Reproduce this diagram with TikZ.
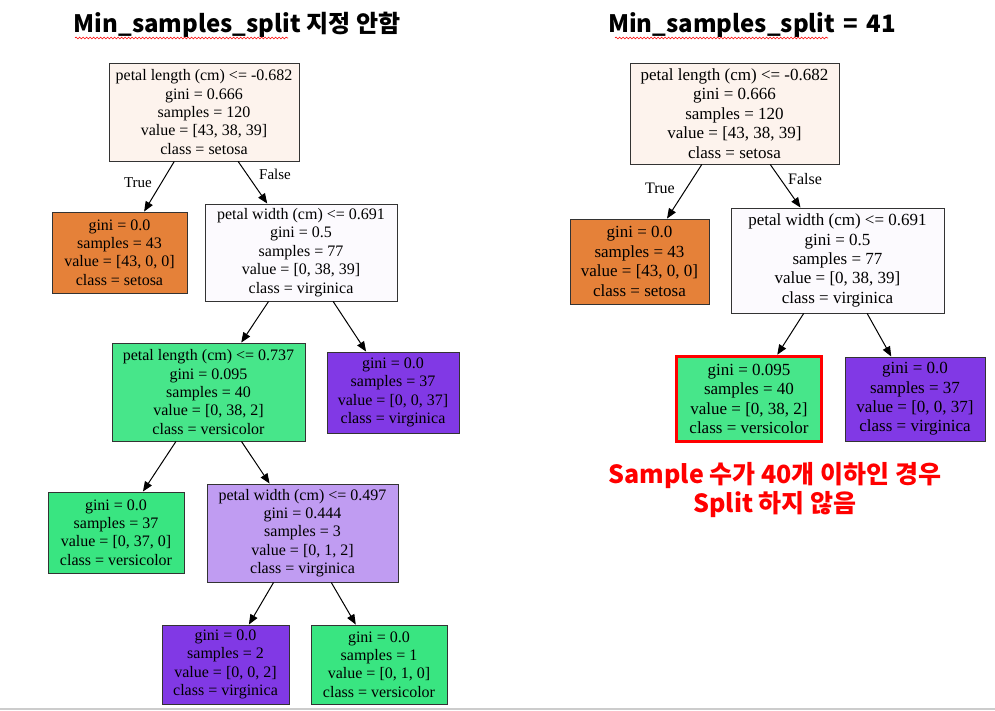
\documentclass[tikz,border=0pt]{standalone}
\usepackage{fontspec}
\setmainfont{Liberation Serif}
\newfontfamily\kr{Noto Sans CJK KR}
\usetikzlibrary{arrows.meta,decorations.pathmorphing}
\definecolor{cRoot}{HTML}{FDF3ED}
\definecolor{cSet}{HTML}{E58139}
\definecolor{cVer}{HTML}{39E581}
\definecolor{cVerL}{HTML}{47E68A}
\definecolor{cVir}{HTML}{8139E5}
\definecolor{cPw}{HTML}{FCFAFE}
\definecolor{cPwb}{HTML}{C09CF2}
\begin{document}
\begin{tikzpicture}[x=1pt,y=-1pt,
  tn/.style={draw=black!80, line width=0.9pt, align=center, inner sep=0pt, font=\fontsize{16}{18.4}\selectfont},
  tr/.style={draw=black!80, line width=0.9pt, align=center, inner sep=0pt, font=\fontsize{17}{19.4}\selectfont},
  edge/.style={-{Triangle[length=10pt,width=8pt]}, line width=1pt, black},
  elab/.style={font=\fontsize{15}{16}\selectfont, inner sep=0pt},
  title/.style={font=\kr\bfseries\fontsize{24}{28}\selectfont, inner sep=0pt},
  squig/.style={draw=red, line width=0.6pt, decorate, decoration={snake, amplitude=0.9pt, segment length=3.5pt}}
]
\useasboundingbox (0,0) rectangle (995,711);
\fill[white] (0,0) rectangle (995,711);
\draw[line width=1.5pt, black!20] (0,709) -- (995,709);

% titles
\node[title] (t1) at (237,25) {Min\_samples\_split 지정 안함};
\node[title] (t2) at (752,25) {Min\_samples\_split\hspace{0.35em}=\hspace{0.35em}41};
\draw[squig] (75,38) -- (288,38);
\draw[squig] (615,38) -- (828,38);

% left tree
\node[tn, fill=cRoot, minimum width=190, minimum height=98] (L0) at (204,112)
  {petal length (cm) <= -0.682\\gini = 0.666\\samples = 120\\value = [43, 38, 39]\\class = setosa};
\node[tn, fill=cSet, minimum width=135, minimum height=81] (L1) at (119.5,252.5)
  {gini = 0.0\\samples = 43\\value = [43, 0, 0]\\class = setosa};
\node[tn, fill=cPw, minimum width=192, minimum height=97] (L2) at (301,252.5)
  {petal width (cm) <= 0.691\\gini = 0.5\\samples = 77\\value = [0, 38, 39]\\class = virginica};
\node[tn, fill=cVerL, minimum width=193, minimum height=98] (L3) at (208.5,392)
  {petal length (cm) <= 0.737\\gini = 0.095\\samples = 40\\value = [0, 38, 2]\\class = versicolor};
\node[tn, fill=cVir, minimum width=132, minimum height=81] (L4) at (393,392.5)
  {gini = 0.0\\samples = 37\\value = [0, 0, 37]\\class = virginica};
\node[tn, fill=cVer, minimum width=136, minimum height=81] (L5) at (116,532.5)
  {gini = 0.0\\samples = 37\\value = [0, 37, 0]\\class = versicolor};
\node[tn, fill=cPwb, minimum width=191, minimum height=98] (L6) at (302.5,533)
  {petal width (cm) <= 0.497\\gini = 0.444\\samples = 3\\value = [0, 1, 2]\\class = virginica};
\node[tn, fill=cVir, minimum width=127, minimum height=79] (L7) at (225.5,664.5)
  {gini = 0.0\\samples = 2\\value = [0, 0, 2]\\class = virginica};
\node[tn, fill=cVer, minimum width=136, minimum height=79] (L8) at (379,664.5)
  {gini = 0.0\\samples = 1\\value = [0, 1, 0]\\class = versicolor};

\draw[edge] (L0) -- (L1);
\draw[edge] (L0) -- (L2);
\draw[edge] (L2) -- (L3);
\draw[edge] (L2) -- (L4);
\draw[edge] (L3) -- (L5);
\draw[edge] (L3) -- (L6);
\draw[edge] (L6) -- (L7);
\draw[edge] (L6) -- (L8);
\node[elab] (LT) at (138,183) {True};
\node[elab] (LF) at (275,174) {False};

% right tree
\node[tr, fill=cRoot, minimum width=209, minimum height=101] (R0) at (734.5,113.5)
  {petal length (cm) <= -0.682\\gini = 0.666\\samples = 120\\value = [43, 38, 39]\\class = setosa};
\node[tr, fill=cSet, minimum width=139, minimum height=85] (R1) at (639.5,261.5)
  {gini = 0.0\\samples = 43\\value = [43, 0, 0]\\class = setosa};
\node[tr, fill=cPw, minimum width=213, minimum height=105] (R2) at (837.5,260.5)
  {petal width (cm) <= 0.691\\gini = 0.5\\samples = 77\\value = [0, 38, 39]\\class = virginica};
\node[tr, draw=red, line width=3.5pt, fill=cVerL, minimum width=145, minimum height=85] (R3) at (749,399)
  {gini = 0.095\\samples = 40\\value = [0, 38, 2]\\class = versicolor};
\node[tr, fill=cVir, minimum width=140, minimum height=84] (R4) at (915,399)
  {gini = 0.0\\samples = 37\\value = [0, 0, 37]\\class = virginica};

\draw[edge] (R0) -- (R1);
\draw[edge] (R0) -- (R2);
\draw[edge] (R2) -- (R3);
\draw[edge] (R2) -- (R4);
\node[elab, font=\fontsize{16}{17}\selectfont] (RT) at (660,188) {True};
\node[elab, font=\fontsize{16}{17}\selectfont] (RF) at (805,179) {False};

\node[font=\kr\bfseries\fontsize{25}{29}\selectfont, text=red, align=center, inner sep=0pt] (note) at (775,490)
  {Sample 수가 40개 이하인 경우\\Split 하지 않음};
\end{tikzpicture}
\end{document}
